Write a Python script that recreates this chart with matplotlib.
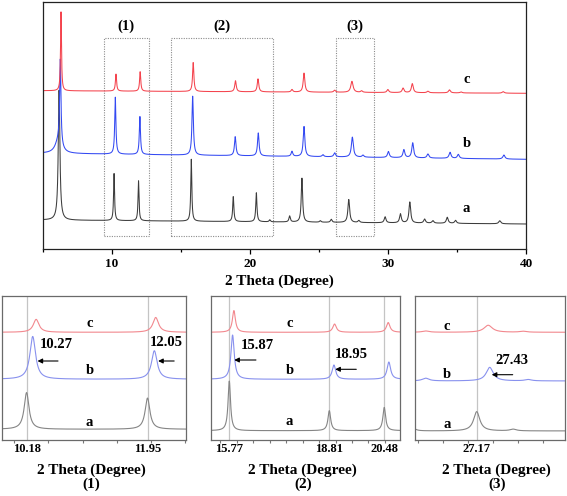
import numpy as np
import matplotlib
matplotlib.use('Agg')
import matplotlib.pyplot as plt
from matplotlib.patches import Rectangle
from matplotlib.ticker import FixedLocator, MultipleLocator

plt.rcParams['font.family'] = ['Liberation Serif', 'DejaVu Serif']
plt.rcParams['font.weight'] = 'bold'

# ---------------- data ----------------
# peak positions (2theta, degree), heights (arbitrary units) and widths (FWHM, degree)
pos_a = [6.20, 10.18, 11.95, 15.77, 18.81, 20.48, 21.45, 22.89, 23.78, 25.11, 25.90,
         27.17, 27.90, 29.80, 30.91, 31.59, 32.66, 33.26, 34.30, 34.90, 38.10]
hts_a = [130, 47, 40, 62, 25, 29, 2, 6, 44, 1.5, 3,
         23, 2, 6, 9, 21, 4, 2.5, 6, 3, 3]
wid_a = [0.14, 0.085, 0.085, 0.09, 0.10, 0.10, 0.11, 0.12, 0.12, 0.13, 0.13,
         0.15, 0.15, 0.15, 0.15, 0.15, 0.16, 0.16, 0.16, 0.16, 0.18]
base_a = [29, 25]

pos_b = [6.15, 6.29, 10.27, 12.05, 15.87, 18.95, 20.62, 23.06, 23.93, 25.30, 26.15,
         27.43, 28.20, 30.04, 31.16, 31.80, 32.90, 34.50, 35.10, 38.40]
hts_b = [12, 85, 57, 38, 59, 19, 23, 5, 30, 2, 4,
         20, 2, 6, 8, 15, 4, 6, 4, 4]
wid_b = [0.55, 0.11, 0.10, 0.10, 0.12, 0.13, 0.13, 0.14, 0.14, 0.15, 0.16,
         0.17, 0.16, 0.16, 0.16, 0.16, 0.17, 0.17, 0.17, 0.18]
base_b = [95.7, 89.7]

pos_c = [6.34, 10.32, 12.07, 15.91, 18.97, 20.60, 23.06, 23.93, 26.15, 27.40, 28.10,
         30.00, 31.10, 31.77, 32.90, 34.46, 35.30, 38.35]
hts_c = [79, 17, 19.5, 29, 11, 13, 2.5, 19, 2, 11, 1.5,
         3, 4.5, 9, 1.5, 3, 1, 1.5]
wid_c = [0.08, 0.10, 0.10, 0.11, 0.13, 0.13, 0.14, 0.14, 0.16, 0.20, 0.16,
         0.16, 0.16, 0.16, 0.17, 0.17, 0.17, 0.18]
base_c = [158.3, 155.7]

main_ticks = [10, 20, 30, 40]
region_names = ['(1)', '(2)', '(3)']
region_x = [(9.42, 12.71), (14.31, 21.69), (26.23, 28.97)]

# insets: x range, marked positions, offsets (a, b, c) and scale (a, b, c)
inset_xlim = [(9.816, 12.506), (15.214, 20.968), (25.93, 28.936)]
inset_marks = [[10.18, 11.95], [15.77, 18.81, 20.48], [27.17]]
inset_marklabels = [['10.18', '11.95'], ['15.77', '18.81', '20.48'], ['27.17']]
inset_offsets = [(10.7, 60.7, 107.7), (9.3, 60.7, 107.7), (9.0, 59.0, 107.7)]
inset_scales = [(0.78, 0.75, 0.76), (0.80, 0.75, 0.75), (0.84, 0.68, 0.64)]
inset_peak_labels = [[('10.27', 10.61, 95, 10.64, 10.34, 79),
                      ('12.05', 12.23, 98, 12.34, 12.105, 79)],
                     [('15.87', 16.63, 94.3, 16.58, 15.92, 80),
                      ('18.95', 19.49, 85, 19.63, 18.99, 70.7)],
                     [('27.43', 27.87, 80, 27.89, 27.47, 65.3)]]
inset_letter_x = [11.10, 17.60, 26.58]
inset_letter_y = [(17.3, 69.3, 116.7), (18.3, 69.3, 116.7), (16, 66, 113.3)]

# ---------------- helpers ----------------
def profile(x, pos, hts, wid):
    y = np.zeros_like(x)
    for p, h, w in zip(pos, hts, wid):
        y += h / (1.0 + ((x - p) / (w / 2.0)) ** 2)
    return y

W, H = 567, 496
fig = plt.figure(figsize=(W / 100, H / 100), dpi=100)


def px_axes(l, t, r, b):
    return fig.add_axes([l / W, 1 - b / H, (r - l) / W, (b - t) / H])


pats = [(pos_a, hts_a, wid_a, base_a), (pos_b, hts_b, wid_b, base_b), (pos_c, hts_c, wid_c, base_c)]
main_colors = ['#3c3c3c', '#3349f2', '#f4434d']
inset_colors = ['#858585', '#8891ee', '#f2888e']

# ---------------- main panel ----------------
ax = px_axes(42.5, 1.7, 526, 249)
x = np.linspace(5, 40, 8001)
for (p, h, w, b), col in zip(pats, main_colors):
    y = np.interp(x, [5, 40], b) + profile(x, p, h, w)
    ax.plot(x, y, color=col, lw=0.75)
ax.set_xlim(5, 40)
ax.set_ylim(0, 247.3)
ax.set_yticks([])
ax.xaxis.set_major_locator(FixedLocator(main_ticks))
ax.xaxis.set_minor_locator(FixedLocator([5, 15, 25, 35]))
ax.tick_params(axis='x', which='major', length=3.5, width=0.9, labelsize=9.5, pad=3)
ax.tick_params(axis='x', which='minor', length=2, width=0.9)
for s in ax.spines.values():
    s.set_linewidth(0.9)
    s.set_color('#222222')
for lab in ax.get_xticklabels():
    lab.set_fontweight('bold')
for (x0, x1), name in zip(region_x, region_names):
    ax.add_patch(Rectangle((x0, 13), x1 - x0, 197.5, fill=False, ls=(0, (1, 1.2)),
                           lw=0.8, ec='#8c8c8c'))
    ax.text((x0 + x1) / 2, 223, name, ha='center', va='center', fontsize=10.5, fontweight='bold')
for lab, yy in zip(['a', 'b', 'c'], [40.7, 105.7, 169.7]):
    ax.text(35.69, yy, lab, ha='center', va='center', fontsize=10.5, fontweight='bold')
fig.text(279.5 / W, 1 - 281 / H, '2 Theta (Degree)', ha='center', va='center',
         fontsize=11, fontweight='bold')

# ---------------- insets ----------------
inset_px = [(1.7, 296, 185.5, 440), (211, 296, 400.3, 440), (414.7, 296, 565, 440)]
inset_label_x = [91.7, 302.7, 496.7]
for k in range(3):
    l, t, r, b = inset_px[k]
    axi = px_axes(l, t, r, b)
    lo, hi = inset_xlim[k]
    xi = np.linspace(lo, hi, 3000)
    for m in inset_marks[k]:
        axi.axvline(m, color='#c4c4c4', lw=0.9, zorder=0)
    for j, ((p, h, w, bb), col) in enumerate(zip(pats, inset_colors)):
        yi = inset_offsets[k][j] + inset_scales[k][j] * profile(xi, p, h, w)
        axi.plot(xi, yi, color=col, lw=0.8)
    axi.set_xlim(lo, hi)
    axi.set_ylim(0, 144)
    axi.set_yticks([])
    axi.xaxis.set_major_locator(FixedLocator(inset_marks[k]))
    axi.set_xticklabels(inset_marklabels[k], fontsize=9, fontweight='bold')
    axi.xaxis.set_minor_locator(MultipleLocator(0.5))
    axi.tick_params(axis='x', which='major', length=0, pad=2.5)
    axi.tick_params(axis='x', which='minor', length=2, width=0.8, color='#777777')
    for s in axi.spines.values():
        s.set_linewidth(0.9)
        s.set_color('#6a6a6a')
    for lab, yy in zip(['a', 'b', 'c'], inset_letter_y[k]):
        axi.text(inset_letter_x[k], yy, lab, ha='center', va='center', fontsize=10.5,
                 fontweight='bold')
    for txt, tx, ty, ax0, ax1, ay in inset_peak_labels[k]:
        axi.text(tx, ty, txt, ha='center', va='center', fontsize=10.5, fontweight='bold')
        axi.annotate('', xy=(ax1, ay), xytext=(ax0, ay),
                     arrowprops=dict(arrowstyle='-|>', lw=0.8, color='k', mutation_scale=7,
                                     shrinkA=0, shrinkB=0))
    fig.text(inset_label_x[k] / W, 1 - 470.5 / H, '2 Theta (Degree)', ha='center', va='center',
             fontsize=11, fontweight='bold')
    fig.text(inset_label_x[k] / W, 1 - 484 / H, '(%d)' % (k + 1), ha='center', va='center',
             fontsize=11, fontweight='bold')

fig.savefig('out.png', dpi=100)
